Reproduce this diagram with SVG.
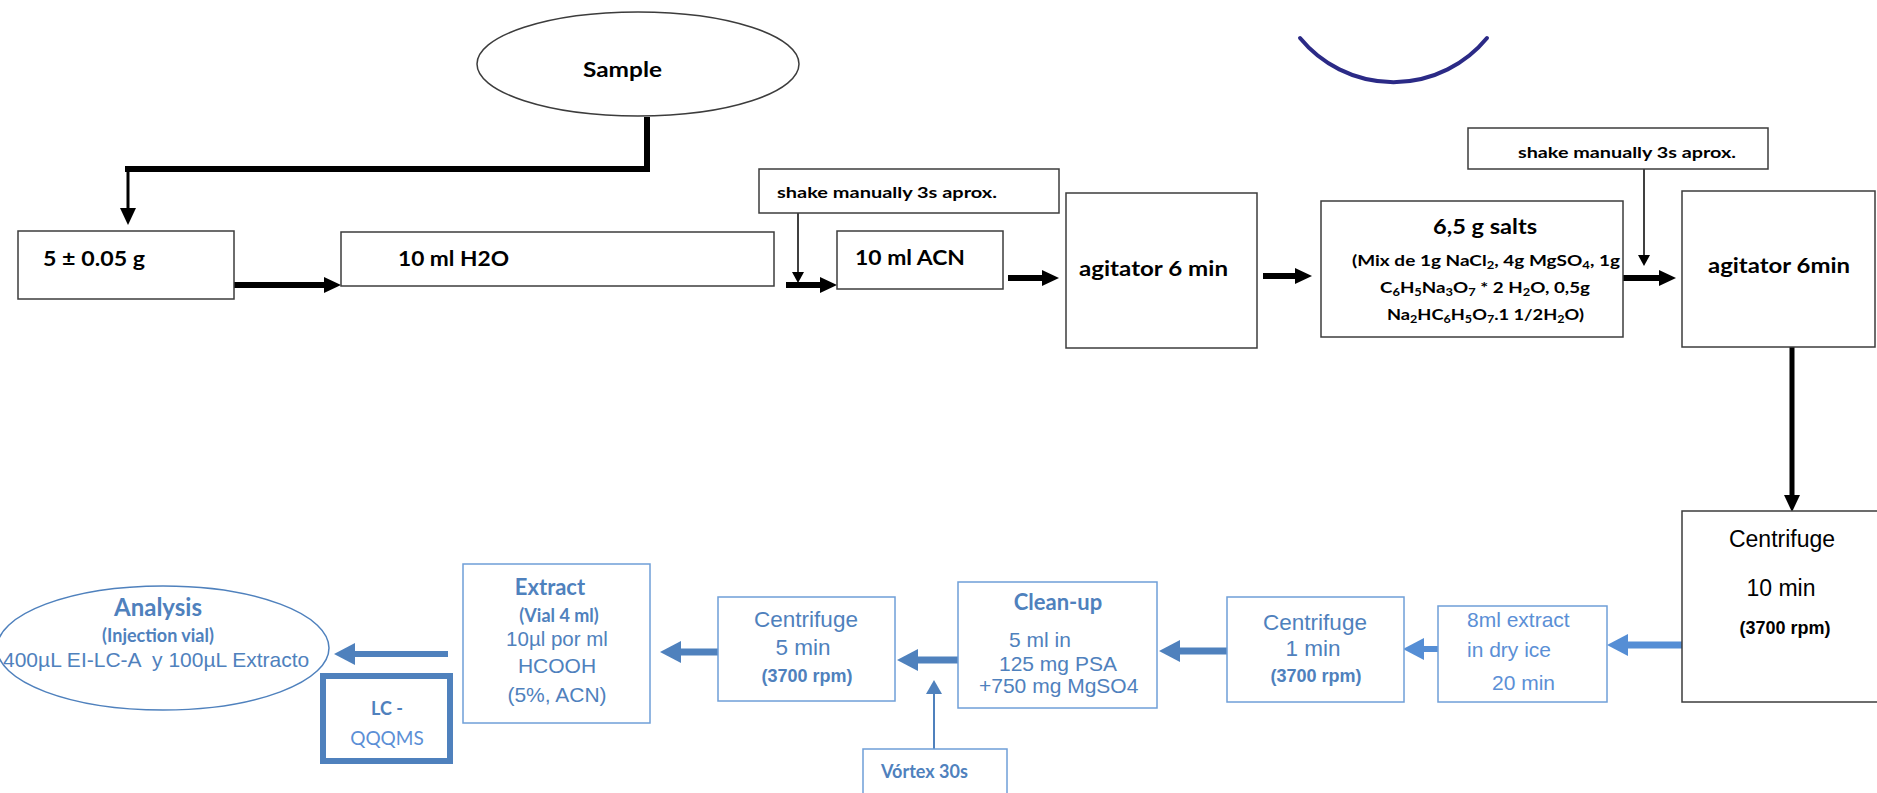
<svg xmlns="http://www.w3.org/2000/svg" width="1877" height="793" viewBox="0 0 1877 793">
<style>
.box{fill:#fff;stroke:#3c3c3c;stroke-width:1.5}
.bbox{fill:#fff;stroke:#6f9fd8;stroke-width:1.5}
.cal{font-family:Lato,"Liberation Sans",sans-serif;font-weight:bold}
.calr{font-family:Lato,"Liberation Sans",sans-serif}
.ar{font-family:"Liberation Sans",Arial,sans-serif}
.arb{font-family:"Liberation Sans",Arial,sans-serif;font-weight:bold}
.k{fill:#000}
.b{fill:#4f81bd}
.bl{fill:#5b8fd6}
.mid{text-anchor:middle}
.sub{font-size:11px;baseline-shift:-3px}
.ck{stroke:#000;fill:none}
.cb{stroke:#4f81bd;fill:none}
.cb2{stroke:#558ed5;fill:none}
</style>
<defs>
<marker id="ak" markerUnits="userSpaceOnUse" markerWidth="18" markerHeight="16" refX="0" refY="8" orient="auto" overflow="visible"><path d="M0,0 L17,8 L0,16 z" fill="#000"/></marker>
<marker id="aks" markerUnits="userSpaceOnUse" markerWidth="12" markerHeight="12" refX="0" refY="6" orient="auto" overflow="visible"><path d="M0,0 L11,6 L0,12 z" fill="#000"/></marker>
<marker id="ab" markerUnits="userSpaceOnUse" markerWidth="22" markerHeight="22" refX="0" refY="11" orient="auto" overflow="visible"><path d="M0,0 L21,11 L0,22 z" fill="#4f81bd"/></marker>
<marker id="ab2" markerUnits="userSpaceOnUse" markerWidth="22" markerHeight="22" refX="0" refY="11" orient="auto" overflow="visible"><path d="M0,0 L21,11 L0,22 z" fill="#558ed5"/></marker>
<marker id="av" markerUnits="userSpaceOnUse" markerWidth="14" markerHeight="16" refX="0" refY="8" orient="auto" overflow="visible"><path d="M0,0 L14,8 L0,16 z" fill="#4f81bd"/></marker>
</defs>
<rect width="1877" height="793" fill="#fff"/>

<g id="connectors">
<path class="ck" stroke-width="6" d="M647,117 V169 H125"/>
<line class="ck" stroke-width="3" x1="128" y1="169" x2="128" y2="208" marker-end="url(#ak)"/>
<line class="ck" stroke-width="6" x1="234" y1="285" x2="324" y2="285" marker-end="url(#ak)"/>
<line class="ck" stroke-width="1.5" x1="798" y1="213" x2="798" y2="272" marker-end="url(#aks)"/>
<line class="ck" stroke-width="6" x1="786" y1="285" x2="820" y2="285" marker-end="url(#ak)"/>
<line class="ck" stroke-width="6" x1="1008" y1="278" x2="1042" y2="278" marker-end="url(#ak)"/>
<line class="ck" stroke-width="6" x1="1263" y1="276" x2="1295" y2="276" marker-end="url(#ak)"/>
<line class="ck" stroke-width="6" x1="1623" y1="278" x2="1659" y2="278" marker-end="url(#ak)"/>
<line class="ck" stroke-width="1.5" x1="1644" y1="169" x2="1644" y2="255" marker-end="url(#aks)"/>
<line class="ck" stroke-width="5" x1="1792" y1="347" x2="1792" y2="495" marker-end="url(#ak)"/>
<line class="cb2" stroke-width="7" x1="1682" y1="645" x2="1628" y2="645" marker-end="url(#ab2)"/>
<line class="cb2" stroke-width="6" x1="1438" y1="649" x2="1424" y2="649" marker-end="url(#ab2)"/>
<line class="cb" stroke-width="7" x1="1227" y1="651" x2="1180" y2="651" marker-end="url(#ab)"/>
<line class="cb" stroke-width="7" x1="958" y1="660" x2="918" y2="660" marker-end="url(#ab)"/>
<line class="cb" stroke-width="7" x1="718" y1="652" x2="681" y2="652" marker-end="url(#ab)"/>
<line class="cb" stroke-width="6" x1="448" y1="654" x2="355" y2="654" marker-end="url(#ab)"/>
<line class="cb" stroke-width="2" x1="934" y1="749" x2="934" y2="694" marker-end="url(#av)"/>
</g>

<path id="arc" d="M1300,38 A121,121 0 0 0 1487,38" fill="none" stroke="#2b2a86" stroke-width="4" stroke-linecap="round"/>

<g id="sample">
<ellipse cx="638" cy="64" rx="161" ry="52" class="box"/>
<text class="cal k" x="583" y="77" font-size="21" textLength="79" lengthAdjust="spacingAndGlyphs">Sample</text>
</g>
<g id="weigh">
<rect class="box" x="18" y="231" width="216" height="68"/>
<text class="cal k" x="43" y="266" font-size="20" textLength="102" lengthAdjust="spacingAndGlyphs">5 ± 0.05 g</text>
</g>
<g id="water">
<rect class="box" x="341" y="232" width="433" height="54"/>
<text class="cal k" x="398" y="266" font-size="20" textLength="111" lengthAdjust="spacingAndGlyphs">10 ml H2O</text>
</g>
<g id="shake1">
<rect class="box" x="759" y="169" width="300" height="44"/>
<text class="cal k" x="777" y="198" font-size="15" textLength="220" lengthAdjust="spacingAndGlyphs">shake manually 3s aprox.</text>
</g>
<g id="acn">
<rect class="box" x="837" y="231" width="166" height="58"/>
<text class="cal k" x="855" y="265" font-size="20" textLength="110" lengthAdjust="spacingAndGlyphs">10 ml ACN</text>
</g>
<g id="agitator1">
<rect class="box" x="1066" y="193" width="191" height="155"/>
<text class="cal k" x="1079" y="276" font-size="21" textLength="149" lengthAdjust="spacingAndGlyphs">agitator 6 min</text>
</g>
<g id="salts">
<rect class="box" x="1321" y="201" width="302" height="136"/>
<text class="cal k" x="1433" y="234" font-size="21" textLength="104" lengthAdjust="spacingAndGlyphs">6,5 g salts</text>
<text class="cal k" x="1352" y="266" font-size="16" textLength="268" lengthAdjust="spacingAndGlyphs">(Mix de 1g NaCl<tspan class="sub">2</tspan>, 4g MgSO<tspan class="sub">4</tspan>, 1g</text>
<text class="cal k" x="1380" y="293" font-size="16" textLength="210" lengthAdjust="spacingAndGlyphs">C<tspan class="sub">6</tspan>H<tspan class="sub">5</tspan>Na<tspan class="sub">3</tspan>O<tspan class="sub">7</tspan> * 2 H<tspan class="sub">2</tspan>O, 0,5g</text>
<text class="cal k" x="1387" y="320" font-size="16" textLength="197" lengthAdjust="spacingAndGlyphs">Na<tspan class="sub">2</tspan>HC<tspan class="sub">6</tspan>H<tspan class="sub">5</tspan>O<tspan class="sub">7</tspan>.1 1/2H<tspan class="sub">2</tspan>O)</text>
</g>
<g id="shake2">
<rect class="box" x="1468" y="128" width="300" height="41"/>
<text class="cal k" x="1518" y="158" font-size="15" textLength="218" lengthAdjust="spacingAndGlyphs">shake manually 3s aprox.</text>
</g>
<g id="agitator2">
<rect class="box" x="1682" y="191" width="193" height="156"/>
<text class="cal k" x="1708" y="273" font-size="21" textLength="142" lengthAdjust="spacingAndGlyphs">agitator 6min</text>
</g>
<g id="centrifuge10">
<rect class="box" x="1682" y="511" width="210" height="191"/>
<text class="ar k mid" x="1782" y="547" font-size="23">Centrifuge</text>
<text class="ar k mid" x="1781" y="596" font-size="23">10 min</text>
<text class="arb k mid" x="1785" y="634" font-size="18">(3700 rpm)</text>
</g>
<g id="dryice">
<rect class="bbox" x="1438" y="606" width="169" height="96"/>
<text class="ar bl" x="1467" y="627" font-size="21">8ml extract</text>
<text class="ar bl" x="1467" y="657" font-size="21">in dry ice</text>
<text class="ar bl" x="1492" y="690" font-size="21">20 min</text>
</g>
<g id="centrifuge1">
<rect class="bbox" x="1227" y="597" width="177" height="105"/>
<text class="ar b mid" x="1315" y="630" font-size="22.5">Centrifuge</text>
<text class="ar b mid" x="1313" y="656" font-size="22.5">1 min</text>
<text class="arb b mid" x="1316" y="682" font-size="18">(3700 rpm)</text>
</g>
<g id="cleanup">
<rect class="bbox" x="958" y="582" width="199" height="126"/>
<text class="cal b mid" x="1058" y="610" font-size="22">Clean-up</text>
<text class="ar b" x="1009" y="647" font-size="21">5 ml in</text>
<text class="ar b" x="999" y="671" font-size="21">125 mg PSA</text>
<text class="ar b" x="979" y="693" font-size="21">+750 mg MgSO4</text>
</g>
<g id="vortex">
<rect class="bbox" x="863" y="749" width="144" height="60"/>
<text class="cal b" x="881" y="778" font-size="18">Vórtex 30s</text>
</g>
<g id="centrifuge5">
<rect class="bbox" x="718" y="597" width="177" height="104"/>
<text class="ar b mid" x="806" y="627" font-size="22.5">Centrifuge</text>
<text class="ar b mid" x="803" y="655" font-size="22.5">5 min</text>
<text class="arb b mid" x="807" y="682" font-size="18">(3700 rpm)</text>
</g>
<g id="extract">
<rect class="bbox" x="463" y="564" width="187" height="159" stroke="#8eaedc"/>
<text class="cal b mid" x="550" y="595" font-size="22">Extract</text>
<text class="cal b mid" x="559" y="622" font-size="18">(Vial 4 ml)</text>
<text class="ar b mid" x="557" y="646" font-size="20.5">10µl por ml</text>
<text class="ar b mid" x="557" y="673" font-size="21">HCOOH</text>
<text class="ar b mid" x="557" y="702" font-size="21">(5%, ACN)</text>
</g>
<g id="analysis">
<ellipse cx="163" cy="648" rx="166" ry="62" fill="#fff" stroke="#4f81bd" stroke-width="1.5"/>
<text class="cal b mid" x="158" y="616" font-size="24">Analysis</text>
<text class="cal b mid" x="158" y="642" font-size="18">(Injection vial)</text>
<text class="ar b" x="3" y="667" font-size="21" xml:space="preserve">400µL EI-LC-A  y 100µL Extracto</text>
</g>
<g id="lcms">
<rect x="323" y="676" width="127" height="85" fill="#fff" stroke="#4f81bd" stroke-width="6"/>
<text class="cal b mid" x="387" y="715" font-size="18">LC -</text>
<text class="calr bl mid" x="387" y="745" font-size="19">QQQMS</text>
</g>
</svg>
